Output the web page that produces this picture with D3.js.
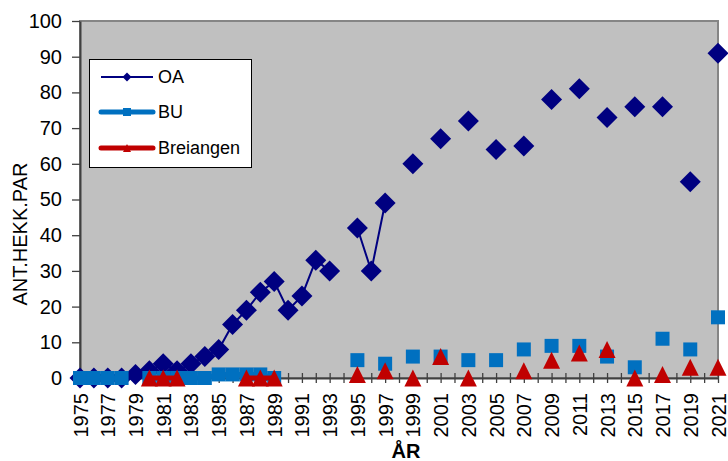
<!DOCTYPE html>
<html>
<head>
<meta charset="utf-8">
<script src="https://cdn.jsdelivr.net/npm/d3@7"></script>
<style>
  body { margin: 0; background: #fff; }
  text { font-family: Arial, "Liberation Sans", sans-serif; }
</style>
</head>
<body>
<svg width="728" height="461"></svg>
<script>
// Data (null = no count that year)
var years = [1975, 1976, 1977, 1978, 1979, 1980, 1981, 1982, 1983, 1984,
             1985, 1986, 1987, 1988, 1989, 1990, 1991, 1992, 1993, 1994,
             1995, 1996, 1997, 1998, 1999, 2000, 2001, 2002, 2003, 2004,
             2005, 2006, 2007, 2008, 2009, 2010, 2011, 2012, 2013, 2014,
             2015, 2016, 2017, 2018, 2019, 2020, 2021];

var oa = [0, 0, 0, 0, 1, 2, 4, 2, 4, 6,
          8, 15, 19, 24, 27, 19, 23, 33, 30, null,
          42, 30, 49, null, 60, null, 67, null, 72, null,
          64, null, 65, null, 78, null, 81, null, 73, null,
          76, null, 76, null, 55, null, 91];

var bu = [0, 0, 0, 0, null, 0, 0, 0, 0, 0,
          1, 1, 1, 1, 0, null, null, null, null, null,
          5, null, 4, null, 6, null, 6, null, 5, null,
          5, null, 8, null, 9, null, 9, null, 6, null,
          3, null, 11, null, 8, null, 17];

var breiangen = [null, null, null, null, null, 0, 0, 0, null, null,
                 null, null, 0, 0, 0, null, null, null, null, null,
                 1, null, 2, null, 0, null, 6, null, 0, null,
                 null, null, 2, null, 5, null, 7, null, 8, null,
                 0, null, 1, null, 3, null, 3];

var yTicks = [0, 10, 20, 30, 40, 50, 60, 70, 80, 90, 100];

var seriesNames = ["OA", "BU", "Breiangen"];
var seriesColors = ["#000080", "#0070C0", "#C00000"];

/****** SETUP ******/
var svg = d3.select("svg");
var plot = {left: 80, right: 718, top: 21, bottom: 378};

var x = d3.scaleLinear().domain([1975, 2021]).range([plot.left, plot.right]);
var y = d3.scaleLinear().domain([0, 100]).range([plot.bottom, plot.top]);

// Plot area
svg.append("rect")
    .attr("x", plot.left)
    .attr("y", plot.top)
    .attr("width", plot.right - plot.left)
    .attr("height", plot.bottom - plot.top)
    .attr("fill", "#C0C0C0")
    .attr("stroke", "#858585")
    .attr("stroke-width", 2);

// Y axis
var yAxis = svg.append("g")
    .attr("transform", "translate(" + plot.left + ",0)")
    .call(d3.axisLeft(y).tickValues(yTicks).tickSize(8).tickPadding(10).tickSizeOuter(0));
yAxis.select(".domain").attr("stroke", "#404040").attr("stroke-width", 2);
yAxis.selectAll(".tick line").attr("stroke", "#404040").attr("stroke-width", 1.3);
yAxis.selectAll("text").attr("font-size", 20).attr("fill", "#000");

// X axis, ticks every year, labels every second year
var xAxis = svg.append("g")
    .attr("transform", "translate(0," + plot.bottom + ")")
    .call(d3.axisBottom(x).tickValues(years).tickSizeOuter(0)
        .tickFormat(function(d) { return (d - 1975) % 2 === 0 ? d : ""; }));
xAxis.select(".domain").attr("stroke", "#404040").attr("stroke-width", 2);
xAxis.selectAll(".tick line")
    .attr("y1", -5).attr("y2", 5)
    .attr("stroke", "#404040").attr("stroke-width", 1.3);
xAxis.selectAll("text")
    .attr("font-size", 20).attr("fill", "#000")
    .attr("transform", "rotate(-90)")
    .attr("text-anchor", "end")
    .attr("x", -15).attr("y", 0).attr("dy", "0.35em");

// Axis titles
svg.append("text")
    .attr("text-anchor", "middle")
    .attr("transform", "translate(27,234)rotate(-90)")
    .attr("font-size", 20)
    .text("ANT.HEKK.PAR");

svg.append("text")
    .attr("text-anchor", "middle")
    .attr("x", 406).attr("y", 458)
    .attr("font-size", 20).attr("font-weight", "bold")
    .text("ÅR");

/****** MARKERS ******/
function diamond(cx, cy, r) {
    return "M" + cx + "," + (cy - r) + "L" + (cx + r) + "," + cy +
        "L" + cx + "," + (cy + r) + "L" + (cx - r) + "," + cy + "Z";
}
function square(cx, cy, r) {
    return "M" + (cx - r) + "," + (cy - r) + "h" + (2 * r) + "v" + (2 * r) + "h" + (-2 * r) + "Z";
}
function triangle(cx, cy, r) {
    return "M" + cx + "," + (cy - r) + "L" + (cx + r) + "," + (cy + r) +
        "L" + (cx - r) + "," + (cy + r) + "Z";
}

function rows(values) {
    return years.map(function(yr, i) { return {year: yr, v: values[i]}; });
}

function renderSeries(values, color, lineWidth, shape, size) {
    var data = rows(values);
    var line = d3.line()
        .defined(function(d) { return d.v != null; })
        .x(function(d) { return x(d.year); })
        .y(function(d) { return y(d.v); });

    svg.append("path")
        .datum(data)
        .attr("d", line)
        .attr("fill", "none")
        .attr("stroke", color)
        .attr("stroke-width", lineWidth);

    svg.append("g").selectAll("path")
        .data(data.filter(function(d) { return d.v != null; }))
        .enter().append("path")
        .attr("d", function(d) { return shape(x(d.year), y(d.v), size); })
        .attr("fill", color);
}

renderSeries(oa, seriesColors[0], 2, diamond, 10.5);
renderSeries(bu, seriesColors[1], 5, square, 7);
renderSeries(breiangen, seriesColors[2], 5, triangle, 8.5);

/****** LEGEND ******/
var legend = svg.append("g");
legend.append("rect")
    .attr("x", 89.5).attr("y", 59.5)
    .attr("width", 162).attr("height", 108)
    .attr("fill", "#fff")
    .attr("stroke", "#000")
    .attr("stroke-width", 1);

var legendY = [77, 112, 148];
var legendShapes = [diamond, square, triangle];
var legendSizes = [4.5, 4, 4];
var legendWidths = [2, 5, 5];

seriesNames.forEach(function(name, i) {
    legend.append("line")
        .attr("x1", 101).attr("x2", 153)
        .attr("y1", legendY[i]).attr("y2", legendY[i])
        .attr("stroke", seriesColors[i])
        .attr("stroke-width", legendWidths[i])
        .attr("stroke-linecap", i === 0 ? "butt" : "round");
    legend.append("path")
        .attr("d", legendShapes[i](127, legendY[i], legendSizes[i]))
        .attr("fill", seriesColors[i]);
    legend.append("text")
        .attr("x", 158).attr("y", legendY[i])
        .attr("dy", "0.35em")
        .attr("font-size", 18)
        .text(name);
});
</script>
</body>
</html>
